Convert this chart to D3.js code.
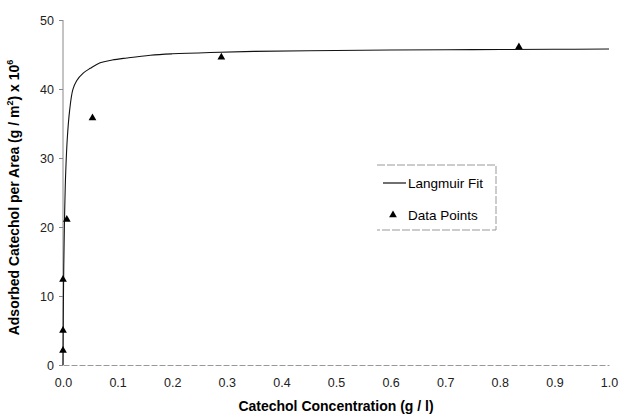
<!DOCTYPE html>
<html>
<head>
<meta charset="utf-8">
<script src="https://cdn.jsdelivr.net/npm/d3@7"></script>
<style>
  body { margin: 0; background: #fff; }
  svg { font-family: "Liberation Sans", Arial, sans-serif; }
  .tick text { font-size: 12.5px; fill: #222; }
</style>
</head>
<body>
<svg width="624" height="416"></svg>
<script>
// measured points
var dataX = [0, 0, 0, 0.007, 0.054, 0.29, 0.835];
var dataY = [2.1, 5.0, 12.4, 21.1, 35.8, 44.6, 46.1];

// fitted curve
var fitX = [0, 0.0005, 0.001, 0.002, 0.003, 0.005, 0.008, 0.012, 0.018, 0.025, 0.037, 0.05, 0.068, 0.09, 0.117, 0.16, 0.2, 0.27, 0.35, 0.45, 0.6, 0.75, 0.9, 1.0];
var fitY = [0, 6.5, 11.5, 17.5, 22, 28, 33, 36.8, 39.9, 41.2, 42.3, 43.0, 43.8, 44.2, 44.5, 44.9, 45.1, 45.3, 45.45, 45.55, 45.65, 45.7, 45.75, 45.8];

var xTicks = [0, 0.1, 0.2, 0.3, 0.4, 0.5, 0.6, 0.7, 0.8, 0.9, 1.0];
var yTicks = [0, 10, 20, 30, 40, 50];

var svg = d3.select("svg"),
    margin = {top: 20, right: 15, bottom: 51, left: 63},
    width = +svg.attr("width") - margin.left - margin.right,
    height = +svg.attr("height") - margin.top - margin.bottom;

var x = d3.scaleLinear().domain([0, 1]).range([0, width]);
var y = d3.scaleLinear().domain([0, 50]).range([height, 0]);

var g = svg.append("g")
    .attr("transform", "translate(" + margin.left + "," + margin.top + ")");

// axes
var xAxis = g.append("g")
    .attr("transform", "translate(0," + height + ")")
    .call(d3.axisBottom(x).tickValues(xTicks).tickFormat(d3.format(".1f")).tickSize(0).tickPadding(13));
xAxis.select(".domain").attr("stroke", "#999").attr("stroke-dasharray", "6,2");

var yAxis = g.append("g")
    .call(d3.axisLeft(y).tickValues(yTicks).tickSize(4).tickPadding(5));
yAxis.select(".domain").attr("stroke", "#888").attr("d", "M0," + height + "V0");
yAxis.selectAll(".tick line").attr("stroke", "#888");

// fit line
var fit = fitX.map(function(d, i) { return {c: d, q: fitY[i]}; });
var line = d3.line()
    .x(function(d) { return x(d.c); })
    .y(function(d) { return y(d.q); })
    .curve(d3.curveCatmullRom.alpha(0.5));

g.append("path")
    .datum(fit)
    .attr("fill", "none")
    .attr("stroke", "#111")
    .attr("stroke-width", 1.1)
    .attr("d", line);

// data points
var tri = d3.symbol().type(d3.symbolTriangle).size(26);
g.selectAll(".pt")
    .data(dataX.map(function(d, i) { return {c: d, q: dataY[i]}; }))
    .enter().append("path")
    .attr("class", "pt")
    .attr("fill", "#000")
    .attr("transform", function(d) { return "translate(" + x(d.c) + "," + y(d.q) + ")"; })
    .attr("d", tri);

// axis titles
svg.append("text")
    .attr("x", margin.left + width / 2)
    .attr("y", 411)
    .attr("text-anchor", "middle")
    .attr("font-size", 14)
    .attr("font-weight", "bold")
    .text("Catechol Concentration (g / l)");

var yt = svg.append("text")
    .attr("transform", "translate(19," + (margin.top + height / 2 + 5) + ") rotate(-90)")
    .attr("text-anchor", "middle")
    .attr("font-size", 14)
    .attr("font-weight", "bold");
yt.append("tspan").text("Adsorbed Catechol per Area (g / m");
yt.append("tspan").attr("font-size", 9).attr("dy", -6).text("2");
yt.append("tspan").attr("dy", 6).text(") x 10");
yt.append("tspan").attr("font-size", 9).attr("dy", -6).text("6");

// legend
var lg = svg.append("g").attr("transform", "translate(377,165)");
lg.append("path")
    .attr("d", "M0,0H119V65H0")
    .attr("fill", "none")
    .attr("stroke", "#999")
    .attr("stroke-dasharray", "8,2");
lg.append("line")
    .attr("x1", 6).attr("x2", 29).attr("y1", 18).attr("y2", 18)
    .attr("stroke", "#111").attr("stroke-width", 1.2);
lg.append("text").attr("x", 31).attr("y", 23).attr("font-size", 13.5).text("Langmuir Fit");
lg.append("path")
    .attr("transform", "translate(16,50)")
    .attr("d", tri);
lg.append("text").attr("x", 31).attr("y", 55).attr("font-size", 13.5).text("Data Points");
</script>
</body>
</html>
